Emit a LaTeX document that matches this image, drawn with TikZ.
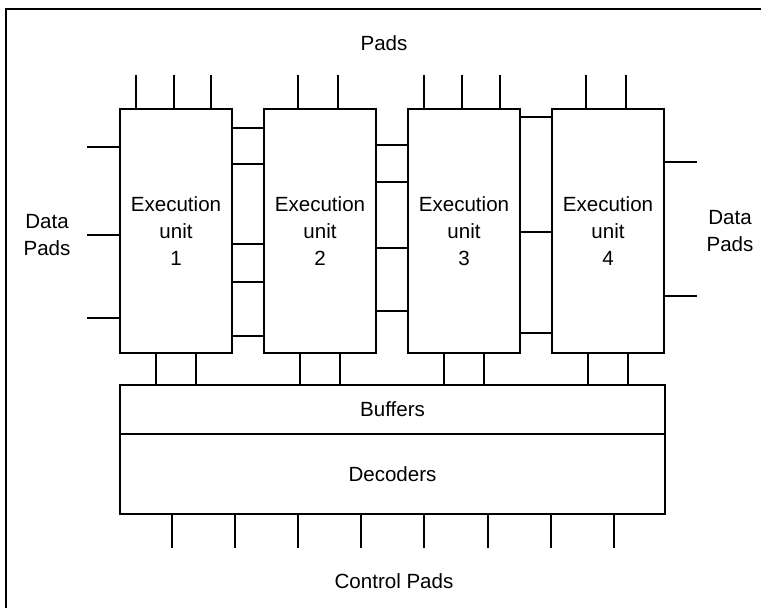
\documentclass[tikz,border=0pt]{standalone}
\usepackage{fontspec}
\setmainfont{Liberation Sans}
\usetikzlibrary{calc}

\begin{document}
\begin{tikzpicture}[x=0.02cm, y=-0.02cm, line width=1.1pt,
    unit/.style={draw, minimum width=2.24cm, minimum height=4.88cm, inner sep=0pt,
      align=center, font=\fontsize{11.7}{15.3}\selectfont},
    lbl/.style={align=center, font=\fontsize{11.7}{15.3}\selectfont}]
  \useasboundingbox (0,0) rectangle (761,608);
  % Outer frame (only top and left edges show)
  \draw[line width=1.6pt] (6,608) -- (6,9) -- (761,9);
  % Execution units
  \foreach \i in {1,...,4}
    \node[unit] (eu\i) at ({176+144*(\i-1)},231) {Execution\\unit\\\i};
  % Buffers and decoders
  \node[draw, outer sep=0pt, minimum width=10.9cm, minimum height=0.98cm, lbl] (buf) at (392.5,409.5) {Buffers};
  \node[draw, outer sep=0pt, minimum width=10.9cm, minimum height=1.6cm, lbl, anchor=north] (dec) at (buf.south) {Decoders};
  % Labels
  \node[lbl] (top) at (384,43) {Pads};
  \node[lbl] (dl) at (47,235) {Data\\Pads};
  \node[lbl] (dr) at (730,231) {Data\\Pads};
  \node[lbl] (ctl) at (394,581) {Control Pads};
  % Top pins
  \foreach \u/\o in {1/17,1/55,1/92,2/35,2/75,3/17,3/55,3/93,4/35,4/75}
    \draw ($(eu\u.north west)+(\o,0)$) -- ++(0,-33);
  % Units to buffers
  \foreach \u in {1,...,4}
    \foreach \o in {37,77}
      \draw ($(eu\u.south west)+(\o,0)$) coordinate (p) -- (p |- buf.north);
  % Links between neighbouring units
  \foreach \y in {128,164,244,282,336}
    \draw (eu1.east |- 0,\y) -- (eu2.west |- 0,\y);
  \foreach \y in {145,182,248,311}
    \draw (eu2.east |- 0,\y) -- (eu3.west |- 0,\y);
  \foreach \y in {117,232,333}
    \draw (eu3.east |- 0,\y) -- (eu4.west |- 0,\y);
  % Data pins
  \foreach \y in {147,235,318}
    \draw (eu1.west |- 0,\y) -- ++(-32,0);
  \foreach \y in {162,296}
    \draw (eu4.east |- 0,\y) -- ++(32,0);
  % Control pins
  \foreach \k in {0,...,7}
    \draw ($(dec.south west)+({52+63.1*\k},0)$) -- ++(0,34);
\end{tikzpicture}
\end{document}
